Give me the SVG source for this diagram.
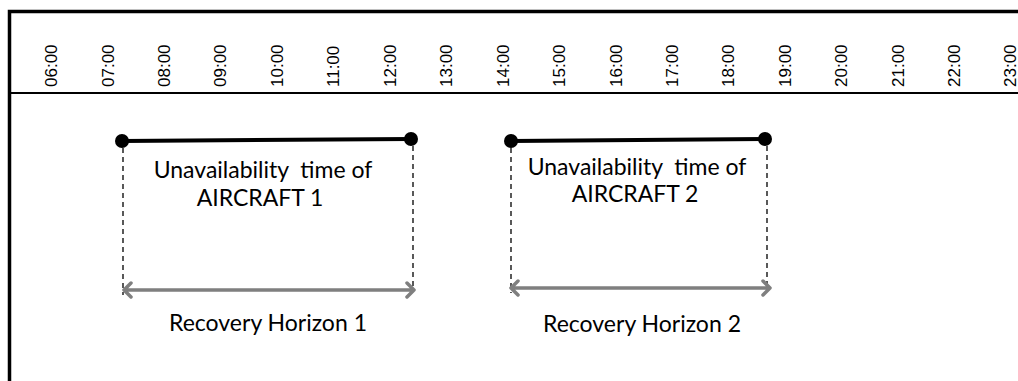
<svg xmlns="http://www.w3.org/2000/svg" width="1018" height="381" viewBox="0 0 1018 381">
<style>
.tick{font-family:"Liberation Sans",Arial,sans-serif;font-size:17px;fill:#000}
.lbl{font-family:Lato,"Open Sans",sans-serif;font-size:23px;fill:#000;text-anchor:middle;white-space:pre}
.bar{stroke:#000;stroke-width:4;fill:none}
.dash{stroke:#000;stroke-width:1.3;stroke-dasharray:5,4;fill:none}
.hz{stroke:#7f7f7f;stroke-width:3.5;fill:none;stroke-linecap:round;stroke-linejoin:round}
</style>
<rect width="1018" height="381" fill="#fff"/>
<g id="frame">
<path d="M9.5 381 V11.5 H1018" stroke="#000" stroke-width="3.5" fill="none"/>
<line x1="9.5" y1="93" x2="1018" y2="93" stroke="#000" stroke-width="2"/>
</g>
<g id="ticks">
<text class="tick" transform="translate(57,87) rotate(-90)">06:00</text>
<text class="tick" transform="translate(113.5,87) rotate(-90)">07:00</text>
<text class="tick" transform="translate(170,87) rotate(-90)">08:00</text>
<text class="tick" transform="translate(226.4,87) rotate(-90)">09:00</text>
<text class="tick" transform="translate(282.8,87) rotate(-90)">10:00</text>
<text class="tick" transform="translate(339.3,87) rotate(-90)">11:00</text>
<text class="tick" transform="translate(395.7,87) rotate(-90)">12:00</text>
<text class="tick" transform="translate(452.2,87) rotate(-90)">13:00</text>
<text class="tick" transform="translate(508.6,87) rotate(-90)">14:00</text>
<text class="tick" transform="translate(565,87) rotate(-90)">15:00</text>
<text class="tick" transform="translate(621.5,87) rotate(-90)">16:00</text>
<text class="tick" transform="translate(678,87) rotate(-90)">17:00</text>
<text class="tick" transform="translate(734.4,87) rotate(-90)">18:00</text>
<text class="tick" transform="translate(790.8,87) rotate(-90)">19:00</text>
<text class="tick" transform="translate(847.3,87) rotate(-90)">20:00</text>
<text class="tick" transform="translate(903.7,87) rotate(-90)">21:00</text>
<text class="tick" transform="translate(960.2,87) rotate(-90)">22:00</text>
<text class="tick" transform="translate(1015.5,87) rotate(-90)">23:00</text>
</g>
<g id="aircraft1">
<line class="bar" x1="122" y1="141" x2="411" y2="139"/>
<circle cx="122" cy="141" r="7"/>
<circle cx="411" cy="139" r="7"/>
<text class="lbl" x="263" y="178" xml:space="preserve">Unavailability  time of</text>
<text class="lbl" x="260" y="206">AIRCRAFT 1</text>
</g>
<g id="aircraft2">
<line class="bar" x1="511" y1="141" x2="765" y2="139"/>
<circle cx="511" cy="141" r="7"/>
<circle cx="765" cy="139" r="7"/>
<text class="lbl" x="637" y="175" xml:space="preserve">Unavailability  time of</text>
<text class="lbl" x="635" y="202">AIRCRAFT 2</text>
</g>
<g id="connectors">
<line class="dash" x1="123" y1="148" x2="123" y2="295"/>
<line class="dash" x1="413" y1="146" x2="413" y2="291"/>
<line class="dash" x1="511" y1="148" x2="511" y2="293"/>
<line class="dash" x1="767" y1="146" x2="767" y2="289"/>
<g id="horizon1">
<path class="hz" d="M124 290 H414 M131 283 L124 290 L131 297 M407 283 L414 290 L407 297"/>
<text class="lbl" x="268" y="331">Recovery Horizon 1</text>
</g>
<g id="horizon2">
<path class="hz" d="M511 288 H770 M518 281 L511 288 L518 295 M763 281 L770 288 L763 295"/>
<text class="lbl" x="642" y="332">Recovery Horizon 2</text>
</g>
</g>
</svg>
